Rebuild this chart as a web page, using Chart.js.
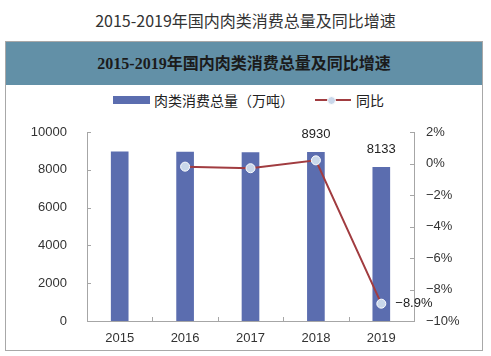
<!DOCTYPE html>
<html>
<head>
<meta charset="utf-8">
<script src="https://cdn.jsdelivr.net/npm/chart.js@4/dist/chart.umd.min.js"></script>
<style>
html,body{margin:0;padding:0;background:#fff;}
body{width:491px;height:356px;position:relative;overflow:hidden;font-family:"Liberation Sans","Noto Sans CJK SC",sans-serif;}
#pageTitle{position:absolute;left:0;top:9px;width:491px;text-align:center;font-size:16px;line-height:22px;color:#333;font-family:"Noto Sans CJK SC",sans-serif;}
#box{position:absolute;left:5px;top:41px;width:476px;height:308px;border:1px solid #a8a8a8;}
#hdr{position:absolute;left:0;top:0;width:476px;height:43px;background:#6290a7;text-align:center;line-height:43px;font-size:16px;font-weight:bold;color:#1b1b1b;font-family:"Liberation Serif","Noto Sans CJK SC",serif;}
.lg{position:absolute;font-size:14px;line-height:16px;color:#222;font-family:"Noto Sans CJK SC",sans-serif;}
#sw1{position:absolute;left:113px;top:96px;width:37px;height:8px;background:#5b6daf;}
#sw2l{position:absolute;left:315px;top:99px;width:36px;height:2px;background:#a13c40;}
#sw2p{position:absolute;left:327px;top:96px;width:7px;height:7px;border-radius:50%;background:#c9d7ea;border:1px solid #fff;}
canvas{position:absolute;left:0;top:0;}
</style>
</head>
<body>
<div id="pageTitle">2015-2019年国内肉类消费总量及同比增速</div>
<div id="box"><div id="hdr">2015-2019年国内肉类消费总量及同比增速</div></div>
<div id="sw1"></div><div class="lg" style="left:154px;top:92px;">肉类消费总量（万吨）</div>
<div id="sw2l"></div><div id="sw2p"></div><div class="lg" style="left:356px;top:92px;">同比</div>
<canvas id="c" width="491" height="356"></canvas>
<script>
const years = ['2015','2016','2017','2018','2019'];
const consumption = [8957, 8939, 8912, 8930, 8133];
const yoyGrowth = [null, -0.2, -0.3, 0.2, -8.9];
const barLabels = [null, null, null, '8930', '8133'];
const lineLabels = [null, null, null, null, '-8.9%'];
const leftTicks = [0, 2000, 4000, 6000, 8000, 10000];
const rightTicks = [-10, -8, -6, -4, -2, 0, 2];

const AXIS = '#a6a6a6';
const TXT = '#333333';

const annotate = {
  id: 'annotate',
  afterDatasetsDraw(chart) {
    const ctx = chart.ctx;
    ctx.save();
    ctx.strokeStyle = AXIS; ctx.lineWidth = 1;
    const x = chart.scales.x, yl = chart.scales.y, yr = chart.scales.y1;
    const bottom = chart.chartArea.bottom;
    for (let i = 1; i < years.length; i++) {
      const px = Math.round((x.getPixelForValue(i-1) + x.getPixelForValue(i)) / 2) + 0.5;
      ctx.beginPath(); ctx.moveTo(px, bottom); ctx.lineTo(px, bottom - 4); ctx.stroke();
    }
    leftTicks.forEach(v => {
      const py = Math.round(yl.getPixelForValue(v)) + 0.5;
      ctx.beginPath(); ctx.moveTo(chart.chartArea.left, py); ctx.lineTo(chart.chartArea.left + 4, py); ctx.stroke();
    });
    rightTicks.forEach(v => {
      const py = Math.round(yr.getPixelForValue(v)) + 0.5;
      ctx.beginPath(); ctx.moveTo(chart.chartArea.right, py); ctx.lineTo(chart.chartArea.right - 4, py); ctx.stroke();
    });
    ctx.fillStyle = '#222';
    ctx.font = '13px "Liberation Sans", Arial, sans-serif';
    const bars = chart.getDatasetMeta(0).data;
    ctx.textAlign = 'center'; ctx.textBaseline = 'bottom';
    barLabels.forEach((t, i) => { if (t) ctx.fillText(t, bars[i].x, bars[i].y - 11); });
    const pts = chart.getDatasetMeta(1).data;
    ctx.textAlign = 'left'; ctx.textBaseline = 'middle';
    lineLabels.forEach((t, i) => { if (t) ctx.fillText(t.replace('-', '\u2212'), pts[i].x + 14, pts[i].y); });
    ctx.restore();
  }
};

const tickFont = { size: 13, family: '"Liberation Sans", Arial, sans-serif' };

new Chart(document.getElementById('c'), {
  data: {
    labels: years,
    datasets: [
      { type: 'bar', data: consumption, backgroundColor: '#5b6daf', barThickness: 17, yAxisID: 'y', order: 2 },
      { type: 'line', data: yoyGrowth, borderColor: '#a13c40', borderWidth: 2, pointRadius: 4.5,
        pointBackgroundColor: '#c9d7ea', pointBorderColor: '#ffffff', pointBorderWidth: 1,
        yAxisID: 'y1', order: 1, spanGaps: false, tension: 0 }
    ]
  },
  options: {
    responsive: false, animation: false, devicePixelRatio: 1,
    layout: { padding: { top: 132, bottom: 0, left: 0, right: 0 } },
    plugins: { legend: { display: false }, tooltip: { enabled: false } },
    scales: {
      x: {
        offset: true,
        grid: { display: false, drawTicks: false },
        border: { display: true, color: AXIS },
        ticks: { color: TXT, padding: 10, font: tickFont },
        afterFit(s) { s.height = 35; s.paddingLeft = 0; s.paddingRight = 0; }
      },
      y: {
        position: 'left', min: 0, max: 10000,
        afterBuildTicks(s) { s.ticks = leftTicks.map(v => ({ value: v })); },
        grid: { display: false, drawTicks: false },
        border: { display: true, color: AXIS },
        ticks: { color: TXT, padding: 20, font: tickFont, callback: v => String(v) },
        afterFit(s) { s.width = 87; s.paddingTop = 0; s.paddingBottom = 0; }
      },
      y1: {
        position: 'right', min: -10, max: 2,
        afterBuildTicks(s) { s.ticks = rightTicks.map(v => ({ value: v })); },
        grid: { display: false, drawTicks: false },
        border: { display: true, color: AXIS },
        ticks: { color: TXT, padding: 12, font: tickFont,
          callback: v => String(v).replace('-', '\u2212') + '%' },
        afterFit(s) { s.width = 77; s.paddingTop = 0; s.paddingBottom = 0; }
      }
    }
  },
  plugins: [annotate]
});
</script>
</body>
</html>
